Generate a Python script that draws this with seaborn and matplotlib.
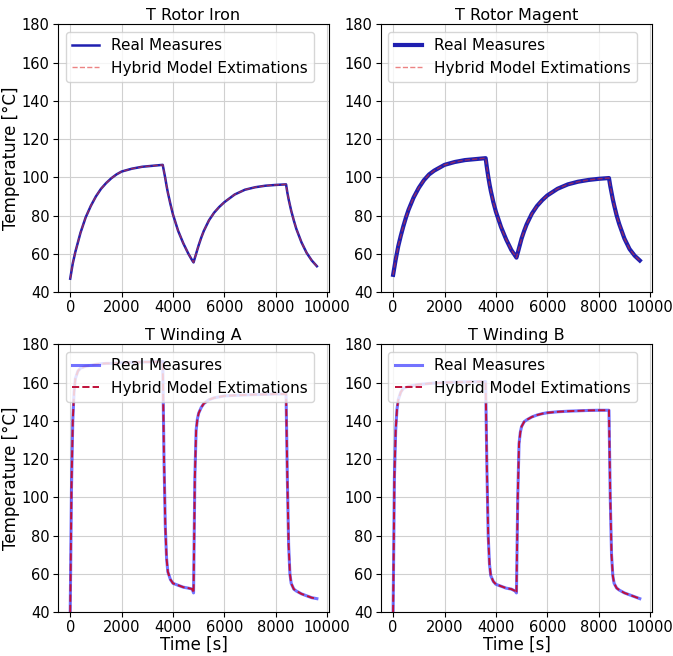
import numpy as np
import pandas as pd
import matplotlib
matplotlib.use("Agg")
import matplotlib.pyplot as plt
import seaborn as sns

# time stamps [s] (denser around the load steps)
time_s = [0, 50, 100, 150, 200, 300, 400, 500, 600, 800, 1000, 1200, 1400, 1600,
          1800, 2000, 2400, 2800, 3200, 3600, 3650, 3700, 3750, 3800, 3900, 4000,
          4200, 4400, 4600, 4750, 4800, 4850, 4900, 4950, 5000, 5100, 5200, 5400,
          5600, 5800, 6000, 6400, 6800, 7200, 7600, 8000, 8400, 8450, 8500, 8550,
          8600, 8700, 8800, 9000, 9200, 9400, 9600]

rotor_iron = [47, 51, 55, 58, 61, 66, 71, 75, 79, 85, 90, 94, 97, 99.5,
              101.5, 103, 104.5, 105.5, 106, 106.5, 103, 99.5, 95.5, 92, 86, 80.5,
              72, 65.5, 60, 56.5, 55.5, 57.8, 60, 62.3, 64.5, 68.5, 72, 77.5,
              81.5, 84.5, 87, 91, 93.5, 94.8, 95.6, 96, 96.3, 92, 88.5, 85.5,
              82.5, 77.5, 73, 66, 60.5, 56.5, 53.5]

rotor_magnet = [49, 53, 57, 60.5, 64, 69.5, 74.5, 79, 83, 89.5, 94.5, 98.5, 101.5, 103.5,
                105, 106.5, 108, 109, 109.5, 110, 105, 100.5, 96.5, 93, 87, 82,
                74, 67.5, 62, 59, 58, 60.5, 63, 65.5, 68, 72, 75.5, 81,
                85, 88, 90.5, 94, 96.3, 97.7, 98.6, 99.2, 99.6, 95.5, 92, 88.5,
                85.5, 80, 75.5, 68, 62.5, 59, 56.5]

winding_a = [40, 105, 140, 155, 162, 166, 167.5, 168, 168.5, 169, 169.5, 169.8, 170, 170,
             170.2, 170.3, 170.5, 170.7, 170.8, 171, 120, 85, 68, 61, 57, 55,
             54, 53, 52.5, 52, 50, 110, 135, 141, 144, 147, 149, 151,
             152, 152.5, 153, 153.3, 153.5, 153.7, 153.8, 154, 154, 110, 75, 60,
             55, 52, 51, 49.5, 48.5, 47.5, 47]

winding_b = [40, 110, 135, 146, 151, 155, 157, 157.5, 158, 158.5, 159, 159.2, 159.5, 159.7,
             159.8, 160, 160.2, 160.3, 160.4, 160.5, 115, 80, 65, 59, 56, 54.5,
             53.5, 52.5, 52, 51, 50, 100, 128, 134, 137, 139.5, 140.5, 142,
             143, 143.7, 144.2, 144.7, 145, 145.2, 145.4, 145.5, 145.5, 100, 70, 59,
             55, 52.5, 51.5, 50, 49, 48, 47]

# model estimations overlap the measures in the picture
panels = [
    ("T Rotor Iron", rotor_iron, rotor_iron),
    ("T Rotor Magent", rotor_magnet, rotor_magnet),
    ("T Winding A", winding_a, winding_a),
    ("T Winding B", winding_b, winding_b),
]

fig, axes = plt.subplots(2, 2, figsize=(6.73, 6.56), dpi=100)
plt.subplots_adjust(left=0.086, right=0.969, top=0.963, bottom=0.067,
                    wspace=0.19, hspace=0.195)

for i, (title, real, model) in enumerate(panels):
    ax = axes.flat[i]
    df = pd.DataFrame({"t": time_s, "real": real, "model": model})
    if i < 2:
        blue_kw = dict(color="#1f1fb0", lw=1.8 if i == 0 else 3.0)
        red_kw = dict(color="#e03030", lw=1.0, alpha=0.6)
    else:
        blue_kw = dict(color="blue", lw=2.2, alpha=0.55)
        red_kw = dict(color="#c0103a", lw=1.4)
    sns.lineplot(data=df, x="t", y="real", ax=ax, label="Real Measures",
                 estimator=None, sort=False, **blue_kw)
    sns.lineplot(data=df, x="t", y="model", ax=ax, label="Hybrid Model Extimations",
                 estimator=None, sort=False, linestyle="--", **red_kw)
    ax.set_ylim(40, 180)
    ax.set_yticks(np.arange(40, 181, 20))
    ax.set_xticks([0, 2000, 4000, 6000, 8000, 10000])
    ax.grid(True, color="#d0d0d0", lw=0.8)
    ax.set_title(title, fontsize=11.5, pad=3)
    ax.tick_params(labelsize=10.5, pad=2.5)
    ax.legend(loc="upper left", fontsize=11, handlelength=1.8)
    ax.set_xlabel("Time [s]" if i >= 2 else "", fontsize=12, labelpad=0)
    ax.set_ylabel("Temperature [°C]" if i % 2 == 0 else "", fontsize=12, labelpad=1)

fig.savefig("out.png", dpi=100)
